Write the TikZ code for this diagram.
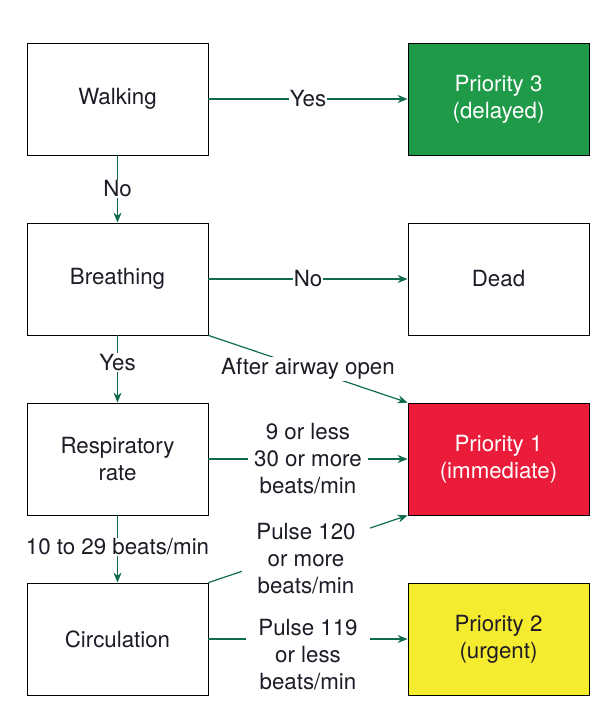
\documentclass[tikz,border=0pt]{standalone}
\usepackage{fontspec}
\setmainfont{TeX Gyre Heros}
\usetikzlibrary{arrows.meta}
\definecolor{lineg}{HTML}{0F6B4E}
\definecolor{boxgreen}{HTML}{1E9A48}
\definecolor{boxred}{HTML}{EA1C3A}
\definecolor{boxyellow}{HTML}{F6EC2F}
\definecolor{txt}{HTML}{1F1B26}
\tikzset{
  box/.style={draw=black, line width=0.8pt, minimum width=181pt, minimum height=112pt, inner sep=0pt, align=center, text=txt, font=\fontsize{22.3}{27}\selectfont},
  conn/.style={draw=lineg, line width=1.2pt, -{Stealth[length=10pt,width=8pt]}},
  lab/.style={fill=white, text=txt, inner sep=1pt, align=center, font=\fontsize{22.3}{27}\selectfont}
}
\begin{document}
\begin{tikzpicture}[x=1pt,y=-1pt]
\useasboundingbox (0,0) rectangle (615,710);
% left column
\node[box] (walk) at (117.5,99) {Walking};
\node[box] (breath) at (117.5,279) {Breathing};
\node[box] (resp) at (117.5,459) {Respiratory\\rate};
\node[box] (circ) at (117.5,639) {Circulation};
% right column
\node[box, fill=boxgreen, text=white] (p3) at (498.5,99) {Priority 3\\(delayed)};
\node[box] (dead) at (498.5,279) {Dead};
\node[box, fill=boxred, text=white] (p1) at (498.5,459) {Priority 1\\(immediate)};
\node[box, fill=boxyellow] (p2) at (498.5,639) {Priority 2\\(urgent)};
% connectors
\draw[conn] (walk) -- node[lab]{Yes} (p3);
\draw[conn] (walk) -- node[lab]{No} (breath);
\draw[conn] (breath) -- node[lab]{No} (dead);
\draw[conn] (breath) -- node[lab, pos=0.4]{Yes} (resp);
\draw[conn] (breath.south east) -- node[lab]{After airway open} (p1.north west);
\draw[conn] (resp) -- node[lab, inner xsep=6pt]{9 or less\\30 or more\\beats/min} (p1);
\draw[conn] (resp) -- node[lab, yshift=2pt]{10 to 29 beats/min} (circ);
\draw[conn] (circ.north east) -- node[lab, inner xsep=14pt, inner ysep=0pt, yshift=-10pt, xshift=-2pt]{Pulse 120\\or more\\beats/min} (p1.south west);
\draw[conn] (circ) -- node[lab, inner xsep=12pt, inner ysep=0pt, yshift=-16pt]{Pulse 119\\or less\\beats/min} (p2);
\end{tikzpicture}
\end{document}
